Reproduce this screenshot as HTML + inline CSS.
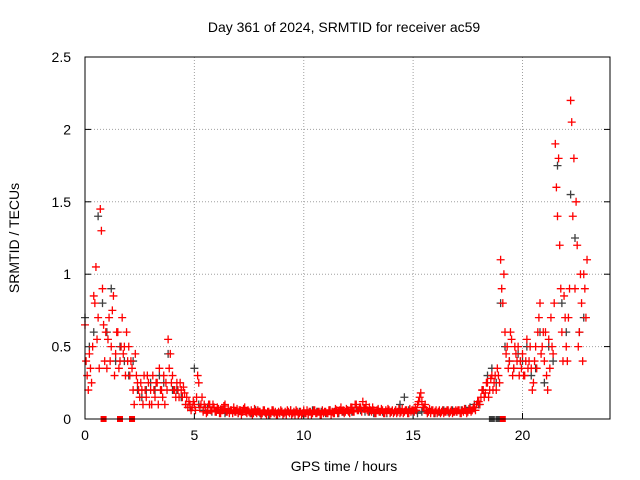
<!DOCTYPE html>
<html><head><meta charset="utf-8"><style>
body{margin:0;background:#fff}
svg{display:block;font-family:"Liberation Sans",sans-serif}
</style></head><body>
<svg id="chart" width="640" height="480"></svg>
<script>
const xTicks=[0,5,10,15,20];
const yTicks=[0,0.5,1,1.5,2,2.5];
const yTickLabels=["0","0.5","1","1.5","2","2.5"];
const redStep=0.1;
const redA=[0.65,0.3,0.45,0.25,0.85,1.05,0.7,1.45,0.9,0.4,
0.35,0.7,0.5,0.85,0.45,0.6,0.4,0.7,0.5,0.6,
0.5,0.4,0.2,0.45,0.25,0.15,0.2,0.3,0.15,0.25,
0.2,0.3,0.15,0.25,0.35,0.2,0.3,0.25,0.55,0.45,
0.3,0.2,0.25,0.15,0.2,0.22,0.1,0.08,0.1,0.08,
0.1,0.15,0.25,0.1,0.05,0.08,0.05,0.1,0.06,0.08,
0.05,0.07,0.04,0.06,0.1,0.05,0.04,0.06,0.08,0.05,
0.04,0.06,0.05,0.08,0.04,0.05,0.06,0.04,0.05,0.06,
0.05,0.04,0.06,0.03,0.05,0.04,0.06,0.05,0.03,0.04,
0.05,0.04,0.03,0.05,0.06,0.04,0.03,0.05,0.04,0.03,
0.06,0.04,0.03,0.05,0.04,0.06,0.04,0.05,0.03,0.04,
0.05,0.04,0.06,0.05,0.04,0.06,0.05,0.08,0.06,0.05,
0.06,0.04,0.08,0.05,0.1,0.06,0.08,0.12,0.07,0.06,
0.08,0.05,0.06,0.04,0.07,0.05,0.06,0.04,0.05,0.06,
0.05,0.04,0.06,0.05,0.04,0.07,0.05,0.06,0.04,0.05,
0.06,0.08,0.1,0.15,0.12,0.08,0.06,0.05,0.04,0.06,
0.05,0.04,0.06,0.05,0.04,0.05,0.06,0.05,0.04,0.05,
0.05,0.06,0.04,0.05,0.06,0.05,0.07,0.06,0.08,0.1,
0.12,0.15,0.2,0.18,0.25,0.2,0.3,0.25,0.2,0.3,
1.1,0.8,0.6,0.5,0.4,0.55,0.35,0.45,0.5,0.4,
0.45,0.3,0.55,0.4,0.35,0.25,0.5,0.6,0.8,0.5,
0.4,0.3,0.55,0.7,0.45,1.9,1.4,1.2,0.6,0.85,
0.5,0.7,2.2,1.4,0.9,1.2,0.6,0.8,1.0,0.7];
const redB=[0.4,0.2,0.35,0.5,0.8,0.55,0.35,1.3,0.65,0.6,
0.55,0.4,0.75,0.3,0.6,0.35,0.5,0.45,0.3,0.4,
0.3,0.35,0.1,0.3,0.2,0.25,0.1,0.2,0.3,0.1,
0.1,0.2,0.25,0.1,0.2,0.15,0.1,0.2,0.35,0.25,
0.2,0.15,0.2,0.25,0.15,0.18,0.15,0.12,0.06,0.12,
0.06,0.3,0.08,0.15,0.1,0.04,0.1,0.06,0.1,0.05,
0.08,0.04,0.06,0.09,0.05,0.07,0.06,0.04,0.05,0.07,
0.06,0.03,0.07,0.05,0.06,0.04,0.03,0.07,0.04,0.05,
0.03,0.06,0.04,0.05,0.03,0.06,0.04,0.03,0.05,0.06,
0.03,0.05,0.06,0.04,0.03,0.05,0.06,0.03,0.05,0.04,
0.04,0.06,0.05,0.03,0.06,0.04,0.05,0.03,0.06,0.05,
0.04,0.06,0.03,0.04,0.07,0.04,0.06,0.05,0.04,0.07,
0.05,0.08,0.05,0.1,0.06,0.08,0.05,0.07,0.1,0.05,
0.06,0.08,0.04,0.06,0.05,0.07,0.04,0.06,0.07,0.04,
0.06,0.05,0.04,0.07,0.05,0.04,0.06,0.04,0.07,0.06,
0.05,0.06,0.12,0.18,0.08,0.1,0.04,0.07,0.06,0.04,
0.06,0.05,0.04,0.06,0.05,0.06,0.04,0.06,0.05,0.06,
0.06,0.04,0.06,0.07,0.04,0.07,0.05,0.08,0.06,0.12,
0.1,0.2,0.15,0.25,0.15,0.28,0.2,0.3,0.35,0.25,
0.9,1.0,0.45,0.35,0.6,0.3,0.5,0.4,0.3,0.35,
0.3,0.4,0.35,0.5,0.2,0.4,0.35,0.7,0.45,0.6,
0.6,0.2,0.35,0.5,0.8,1.6,1.8,0.9,0.4,0.7,
0.4,0.9,2.05,1.8,1.5,0.5,1.0,0.4,0.9,1.1];
const greyStep=0.2;
const greyVals=[0.7,0.5,0.6,1.4,0.8,0.6,0.9,0.4,0.5,0.4,
0.3,0.4,0.2,0.15,0.2,0.25,0.2,0.3,0.25,0.45,
0.2,0.2,0.15,0.1,0.08,0.35,0.1,0.06,0.08,0.05,
0.05,0.06,0.04,0.05,0.06,0.04,0.05,0.05,0.04,0.06,
0.04,0.05,0.03,0.05,0.04,0.05,0.04,0.06,0.04,0.05,
0.05,0.04,0.06,0.05,0.05,0.04,0.06,0.05,0.04,0.05,
0.06,0.05,0.08,0.06,0.05,0.05,0.04,0.06,0.05,0.04,
0.05,0.06,0.1,0.15,0.06,0.05,0.04,0.05,0.06,0.05,
0.04,0.05,0.06,0.05,0.06,0.05,0.06,0.07,0.08,0.1,
0.1,0.2,0.3,0.35,0.25,0.8,0.5,0.4,0.35,0.45,
0.4,0.5,0.3,0.35,0.6,0.25,0.5,0.4,1.75,0.8,
0.6,1.55,1.25,0.6,0.7];
const redZeroTimes=[0.85,1.6,2.15,19.1];
const greyZeroTimes=[18.6,18.9];

const L=85,R=610,T=57,B=419,XMAX=24,YMAX=2.5;
const sx=v=>L+(R-L)*v/XMAX, sy=v=>B-(B-T)*v/YMAX;
const svg=document.getElementById('chart');
const NS='http://www.w3.org/2000/svg';
function mk(tag,attrs,parent){const e=document.createElementNS(NS,tag);for(const k in attrs)e.setAttribute(k,attrs[k]);(parent||svg).appendChild(e);return e;}
const grid=mk('g',{});


xTicks.forEach(t=>{
  if(t>0){const l=mk('line',{x1:sx(t),x2:sx(t),y1:T,y2:B,stroke:'#a0a0a0','stroke-dasharray':'1,2'},grid);}
  const tk=mk('line',{x1:sx(t),x2:sx(t),y1:B,y2:B-6,stroke:'#000'});
  const tx=mk('text',{x:sx(t),y:B+21,'text-anchor':'middle','font-size':14,fill:'#000'});
  tx.textContent=t;
  
  
});
yTicks.forEach((t,i)=>{
  if(t>0&&t<YMAX){mk('line',{x1:L,x2:R,y1:sy(t),y2:sy(t),stroke:'#a0a0a0','stroke-dasharray':'1,2'},grid);}
  mk('line',{x1:L,x2:L+6,y1:sy(t),y2:sy(t),stroke:'#000'});
  mk('line',{x1:R,x2:R-6,y1:sy(t),y2:sy(t),stroke:'#000'});
  const tx=mk('text',{x:L-14,y:sy(t)+5,'text-anchor':'end','font-size':14,fill:'#000'});
  tx.textContent=yTickLabels[i];
  
  
});
function plus(g,t,v,c){
  const x=sx(t),y=sy(v);
  const p=mk('path',{d:`M${x-4},${y}h8M${x},${y-4}v8`,stroke:c,'stroke-width':1.3,fill:'none'},g);
  
  
}
function zero(g,t,c){
  const r=mk('rect',{x:sx(t)-3,y:B-3,width:6,height:6,fill:c},g);
  
  
}
const gG=mk('g',{});


greyVals.forEach((v,i)=>plus(gG,i*greyStep,v,'#404040'));
greyZeroTimes.forEach(t=>zero(gG,t,'#404040'));
const gR=mk('g',{});


redB.forEach((v,i)=>plus(gR,i*redStep+0.05,v,'#ff0000'));
redA.forEach((v,i)=>plus(gR,i*redStep,v,'#ff0000'));
redZeroTimes.forEach(t=>zero(gR,t,'#ff0000'));
const fr=mk('rect',{x:L,y:T,width:R-L,height:B-T,fill:'none',stroke:'#000'});


const ti=mk('text',{x:344,y:32,'text-anchor':'middle','font-size':14});
ti.textContent='Day 361 of 2024, SRMTID for receiver ac59';


const xt=mk('text',{x:344,y:471,'text-anchor':'middle','font-size':14});
xt.textContent='GPS time / hours';


const yt=mk('text',{x:0,y:0,'text-anchor':'middle','font-size':14,transform:'translate(19,238) rotate(-90)'});
yt.textContent='SRMTID / TECUs';


</script>
</body></html>
